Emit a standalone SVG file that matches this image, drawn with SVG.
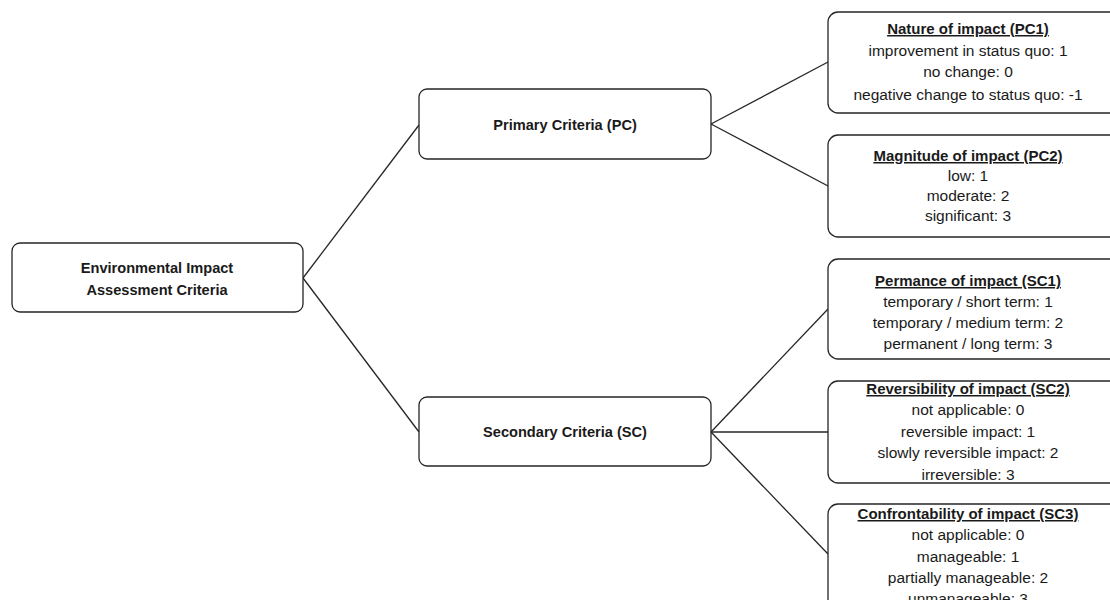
<svg xmlns="http://www.w3.org/2000/svg" width="1110" height="600" viewBox="0 0 1110 600">
  <style>
    .box { fill: #ffffff; stroke: #262626; stroke-width: 1.3; }
    .conn { stroke: #262626; stroke-width: 1.3; fill: none; }
    .main { font-family: "Liberation Sans", Arial, sans-serif; font-size: 14.6px; font-weight: bold; fill: #1a1a1a; text-anchor: middle; }
    .title { font-family: "Liberation Sans", Arial, sans-serif; font-size: 15px; font-weight: bold; fill: #1a1a1a; text-anchor: middle; text-decoration: underline; }
    .item { font-family: "Liberation Sans", Arial, sans-serif; font-size: 15.5px; fill: #1a1a1a; text-anchor: middle; }
  </style>
  <rect width="1110" height="600" fill="#ffffff"/>
  <g id="connectors">
    <line class="conn" x1="303" y1="278" x2="419" y2="125"/>
    <line class="conn" x1="303" y1="278" x2="419" y2="432"/>
    <line class="conn" x1="711" y1="124" x2="828" y2="62"/>
    <line class="conn" x1="711" y1="124" x2="828" y2="186"/>
    <line class="conn" x1="711" y1="432" x2="828" y2="309"/>
    <line class="conn" x1="711" y1="432" x2="828" y2="432"/>
    <line class="conn" x1="711" y1="432" x2="828" y2="554"/>
  </g>
  <g id="root">
    <rect class="box" x="12" y="243" width="291" height="69" rx="8"/>
    <text class="main" x="157" y="273">Environmental Impact</text>
    <text class="main" x="157" y="295">Assessment Criteria</text>
  </g>
  <g id="primary">
    <rect class="box" x="419" y="89" width="292" height="70" rx="8"/>
    <text class="main" x="565" y="130">Primary  Criteria (PC)</text>
  </g>
  <g id="secondary">
    <rect class="box" x="419" y="397" width="292" height="69" rx="8"/>
    <text class="main" x="565" y="437">Secondary Criteria (SC)</text>
  </g>
  <g id="pc1">
    <rect class="box" x="828" y="12" width="292" height="101" rx="10"/>
    <text class="title" x="968" y="34">Nature of impact (PC1)</text>
    <text class="item" x="968" y="56">improvement  in status quo: 1</text>
    <text class="item" x="968" y="77">no change: 0</text>
    <text class="item" x="968" y="100">negative change to status quo: -1</text>
  </g>
  <g id="pc2">
    <rect class="box" x="828" y="135" width="292" height="102" rx="10"/>
    <text class="title" x="968" y="161">Magnitude of impact (PC2)</text>
    <text class="item" x="968" y="181">low:  1</text>
    <text class="item" x="968" y="201">moderate: 2</text>
    <text class="item" x="968" y="221">significant:  3</text>
  </g>
  <g id="sc1">
    <rect class="box" x="828" y="259" width="292" height="100" rx="10"/>
    <text class="title" x="968" y="286">Permance of impact (SC1)</text>
    <text class="item" x="968" y="307">temporary / short term: 1</text>
    <text class="item" x="968" y="328">temporary / medium  term: 2</text>
    <text class="item" x="968" y="349">permanent / long term: 3</text>
  </g>
  <g id="sc2">
    <rect class="box" x="828" y="381" width="292" height="102" rx="10"/>
    <text class="title" x="968" y="394">Reversibility of impact (SC2)</text>
    <text class="item" x="968" y="415">not applicable:  0</text>
    <text class="item" x="968" y="437">reversible impact: 1</text>
    <text class="item" x="968" y="458">slowly  reversible impact: 2</text>
    <text class="item" x="968" y="480">irreversible: 3</text>
  </g>
  <g id="sc3">
    <rect class="box" x="828" y="504" width="292" height="110" rx="10"/>
    <text class="title" x="968" y="519">Confrontability of impact (SC3)</text>
    <text class="item" x="968" y="540">not applicable:  0</text>
    <text class="item" x="968" y="562">manageable:  1</text>
    <text class="item" x="968" y="583">partially  manageable:  2</text>
    <text class="item" x="968" y="604">unmanageable:  3</text>
  </g>
</svg>
